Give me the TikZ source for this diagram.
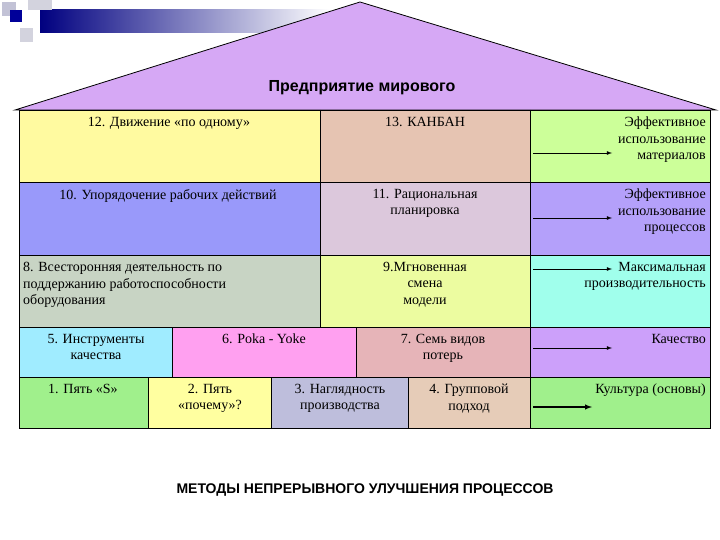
\documentclass[tikz,border=0pt]{standalone}
\usepackage{fontspec}
\setmainfont{Liberation Serif}
\newfontfamily\arialf{Liberation Sans}
\definecolor{roofc}{RGB}{214,168,245}
\definecolor{colA}{RGB}{255,250,160}
\definecolor{colB}{RGB}{230,196,178}
\definecolor{colC}{RGB}{204,255,153}
\definecolor{colD}{RGB}{153,153,250}
\definecolor{colE}{RGB}{220,200,220}
\definecolor{colF}{RGB}{180,160,250}
\definecolor{colG}{RGB}{200,212,196}
\definecolor{colH}{RGB}{236,252,160}
\definecolor{colI}{RGB}{160,255,236}
\definecolor{colJ}{RGB}{160,236,255}
\definecolor{colK}{RGB}{255,160,240}
\definecolor{colL}{RGB}{230,180,184}
\definecolor{colM}{RGB}{204,160,250}
\definecolor{colN}{RGB}{160,240,140}
\definecolor{colO}{RGB}{255,255,160}
\definecolor{colP}{RGB}{190,190,220}
\definecolor{colQ}{RGB}{230,204,184}
\begin{document}
\begin{tikzpicture}[x=1pt,y=-1pt,
  cell/.style={draw=black,line width=0.8pt},
  txt/.style={font=\fontsize{14}{16.5}\selectfont,align=center,inner sep=1pt,anchor=north},
  rtxt/.style={font=\fontsize{14}{16.5}\selectfont,align=right,inner sep=1pt,anchor=north east},
  arr/.style={-latex,line width=0.8pt}]
\useasboundingbox (0,0) rectangle (720,540);
% decoration
\shade[left color=blue!50!black,right color=white] (40,10) rectangle (330,33);
\fill[fill=blue!20!gray!40] (2,2) rectangle (16,16);
\fill[fill=blue!15!gray!30] (28,0) rectangle (52,10);
\fill[fill=blue!15!gray!30] (20,28) rectangle (33,42);
\fill[fill=blue!60!black] (10,10) rectangle (22,22);
% roof
\path[fill=roofc,draw=black,line width=0.8pt] (15,110) -- (360,2) -- (716,110) -- cycle;
\node[font=\arialf\bfseries\fontsize{16}{18}\selectfont] (title) at (362,88) {Предприятие мирового};
% row1
\fill[fill=colA] (19,110) rectangle (320,182);
\fill[fill=colB] (320,110) rectangle (530,182);
\fill[fill=colC] (530,110) rectangle (710,182);
% row2
\fill[fill=colD] (19,182) rectangle (320,255);
\fill[fill=colE] (320,182) rectangle (530,255);
\fill[fill=colF] (530,182) rectangle (710,255);
% row3
\fill[fill=colG] (19,255) rectangle (320,327);
\fill[fill=colH] (320,255) rectangle (530,327);
\fill[fill=colI] (530,255) rectangle (710,327);
% row4
\fill[fill=colJ] (19,327) rectangle (172,377);
\fill[fill=colK] (172,327) rectangle (356,377);
\fill[fill=colL] (356,327) rectangle (530,377);
\fill[fill=colM] (530,327) rectangle (710,377);
% row5
\fill[fill=colN] (19,377) rectangle (148,428);
\fill[fill=colO] (148,377) rectangle (271,428);
\fill[fill=colP] (271,377) rectangle (408,428);
\fill[fill=colQ] (408,377) rectangle (530,428);
\fill[fill=colN] (530,377) rectangle (710,428);
% grid lines
\draw[cell] (19,110) rectangle (710,428);
\foreach \y in {182,255,327,377} \draw[cell] (19,\y) -- (710,\y);
\draw[cell] (320,110) -- (320,327);
\draw[cell] (530,110) -- (530,428);
\draw[cell] (172,327) -- (172,377);
\draw[cell] (356,327) -- (356,377);
\draw[cell] (148,377) -- (148,428);
\draw[cell] (271,377) -- (271,428);
\draw[cell] (408,377) -- (408,428);
% texts
\node[txt] (c12) at (169,116) {12. Движение «по одному»};
\node[txt] (c13) at (425,116) {13. КАНБАН};
\node[rtxt] (r1) at (707,116) {Эффективное\\использование\\материалов};
\node[txt] (c10) at (168,188) {10. Упорядочение рабочих действий};
\node[txt] (c11) at (425,188) {11. Рациональная\\планировка};
\node[rtxt] (r2) at (707,188) {Эффективное\\использование\\процессов};
\node[txt,anchor=north west,align=left] (c8) at (22,261) {8. Всесторонняя деятельность по\\поддержанию работоспособности\\оборудования};
\node[txt] (c9) at (425,261) {9.Мгновенная\\смена\\модели};
\node[rtxt] (r3) at (707,261) {Максимальная\\производительность};
\node[txt] (c5) at (96,333) {5. Инструменты\\качества};
\node[txt] (c6) at (264,333) {6. Poka - Yoke};
\node[txt] (c7) at (443,333) {7. Семь видов\\потерь};
\node[rtxt] (r4) at (707,333) {Качество};
\node[txt] (c1) at (83,383) {1. Пять «S»};
\node[txt] (c2) at (210,383) {2. Пять\\«почему»?};
\node[txt] (c3) at (340,383) {3. Наглядность\\производства};
\node[txt] (c4) at (469,383) {4. Групповой\\подход};
\node[rtxt] (r5) at (707,383) {Культура (основы)};
% arrows
\coordinate (a1s) at (533,153); \coordinate (a1e) at (612,153);
\coordinate (a2s) at (533,218); \coordinate (a2e) at (612,218);
\coordinate (a3s) at (533,269); \coordinate (a3e) at (612,269);
\coordinate (a4s) at (533,348); \coordinate (a4e) at (612,348);
\coordinate (a5s) at (533,407); \coordinate (a5e) at (592,407);
\draw[arr] (a1s) -- (a1e);
\draw[arr] (a2s) -- (a2e);
\draw[arr] (a3s) -- (a3e);
\draw[arr] (a4s) -- (a4e);
\draw[arr,line width=1.4pt] (a5s) -- (a5e);
\node[font=\arialf\bfseries\fontsize{14}{16}\selectfont] (bottom) at (365,490) {МЕТОДЫ НЕПРЕРЫВНОГО УЛУЧШЕНИЯ ПРОЦЕССОВ};
\end{tikzpicture}
\end{document}
